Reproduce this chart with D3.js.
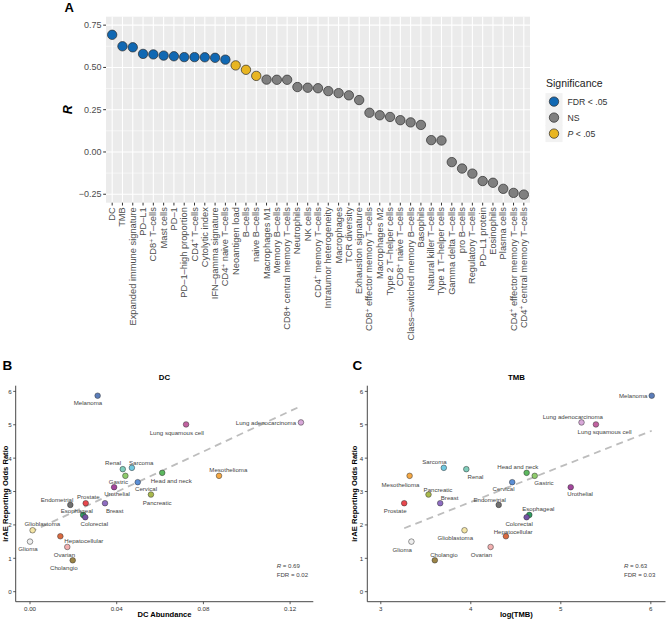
<!DOCTYPE html>
<html><head><meta charset="utf-8">
<script src="https://cdn.jsdelivr.net/npm/d3@7"></script>
<style>body{margin:0;background:#fff} text{font-family:"Liberation Sans",Arial,Helvetica,sans-serif}</style>
</head><body><svg id="c" width="666" height="619"></svg>
<script>
// ---------- DATA: panel A ----------
const features = ["DC","TMB","Expanded immune signature","PD–L1","CD8^+ T–cells","Mast cells","PD–1",
"PD–1–high proportion","CD4^+ T–cells","Cytolytic index","IFN–gamma signature","CD4^+ naive T–cells",
"Neoantigen load","B–cells","naive B–cells","Macrophages M1","Memory B–cells","CD8+ central memory T–cells",
"Neutrophils","NK cells","CD4^+ memory T–cells","Intratumor heterogeneity","Macrophages","TCR diversity",
"Exhaustion signature","CD8^+ effector memory T–cells","Macrophages M2","Type 2 T–helper cells",
"CD8^+ naive T–cells","Class–switched memory B–cells","Basophils","Natural killer T–cells",
"Type 1 T–helper cells","Gamma delta T–cells","pro B–cells","Regulatory T–cells","PD–L1 protein",
"Eosinophils","Plasma cells","CD4^+ effector memory T–cells","CD4^+ central memory T–cells"];
const rValues = [0.693,0.625,0.619,0.580,0.577,0.570,0.566,0.561,0.561,0.560,0.557,0.546,
0.512,0.486,0.450,0.428,0.427,0.427,0.384,0.380,0.377,0.360,0.348,0.335,0.307,0.232,0.217,0.207,
0.188,0.175,0.160,0.070,0.068,-0.060,-0.098,-0.128,-0.172,-0.182,-0.218,-0.242,-0.252];
const significance = ["FDR","FDR","FDR","FDR","FDR","FDR","FDR","FDR","FDR","FDR","FDR","FDR",
"P","P","P","NS","NS","NS","NS","NS","NS","NS","NS","NS","NS","NS","NS","NS","NS","NS","NS","NS","NS",
"NS","NS","NS","NS","NS","NS","NS","NS"];
const yTicksA = [-0.25,0,0.25,0.5,0.75];
const yMinorA = [-0.125,0.125,0.375,0.625];
const sigLevels = ["FDR","NS","P"];
const sigColors = ["#1068B3","#7F7F7F","#E8B521"];

// ---------- DATA: panels B & C ----------
const cancers = ["Melanoma","Lung squamous cell","Lung adenocarcinoma","Renal","Sarcoma","Gastric",
"Head and neck","Mesothelioma","Cervical","Urothelial","Pancreatic","Prostate","Breast","Endometrial",
"Esophageal","Colorectal","Glioblastoma","Glioma","Hepatocellular","Ovarian","Cholangio"];
const dcAbundance = [0.0312,0.0720,0.1250,0.0428,0.0470,0.0440,0.0610,0.0872,0.0497,0.0388,0.0558,
0.0257,0.0346,0.0186,0.0245,0.0255,0.0012,0.0000,0.0140,0.0172,0.0197];
const logTMB = [6.01,5.39,5.23,3.95,3.70,4.71,4.62,3.32,4.46,5.11,3.53,3.26,3.66,4.31,4.65,4.62,3.93,
3.34,4.39,4.22,3.60];
const irAEOR = [5.87,5.01,5.07,3.67,3.71,3.47,3.56,3.47,3.28,3.13,2.91,2.65,2.65,2.60,2.30,2.23,1.84,
1.50,1.66,1.34,0.94];
const cancerColors = ["#5B7DB9","#C162A0","#D8A8D9","#80CDBB","#70C8E0","#8FCB6C","#5CB85F","#F5A844",
"#5B8FD6","#A2469C","#A9B94C","#E8474D","#8E6DC1","#707070","#2F9B60","#7452A4","#F4E5A6","#EEEEEE",
"#D96A40","#F2AFAF","#9C8548"];
const xTicksB = [0.00,0.04,0.08,0.12];
const xTicksC = [3,4,5,6];
const yTicksBC = [0,1,2,3,4,5,6];
const fitB = {x:[0.000,0.125], y:[1.78,5.56]};
const fitC = {x:[3.26,6.01], y:[1.90,4.82]};
const statsB = ["0.69","0.02"];
const statsC = ["0.63","0.03"];

// ---------- layout: label nudges (px) ----------
const nudgeB = {"Melanoma":[-9.7,7],"Lung squamous cell":[-9.3,8],"Lung adenocarcinoma":[-35,0],
"Renal":[-9.7,-6.3],"Sarcoma":[9.3,-5.7],"Gastric":[-7,5.6],"Head and neck":[9,7.3],"Mesothelioma":[9.3,-6.4],
"Cervical":[8.3,6.7],"Urothelial":[3,6.7],"Pancreatic":[6.2,8],"Prostate":[2.6,-6.3],"Breast":[9.7,7.4],
"Endometrial":[-13.3,-5.7],"Esophageal":[-6.3,-4],"Colorectal":[9,6.7],"Glioblastoma":[9.8,-6.6],
"Glioma":[-2,7.3],"Hepatocellular":[23.5,4],"Ovarian":[-2.8,7.3],"Cholangio":[-8.9,7.4]};
const nudgeC = {"Melanoma":[-18.5,0],"Lung adenocarcinoma":[-8.7,-6],"Lung squamous cell":[8.7,7],
"Sarcoma":[-9.3,-6],"Renal":[9.2,7],"Head and neck":[-8.8,-6],"Gastric":[9.3,7],"Mesothelioma":[-9.1,8.3],
"Cervical":[-8.7,6.7],"Urothelial":[9.4,6.7],"Pancreatic":[9.5,-5.4],"Breast":[9.4,-5.6],"Prostate":[-9,7],
"Endometrial":[-9,-5.4],"Esophageal":[9,-6.3],"Colorectal":[-7.5,6],"Hepatocellular":[7.2,-5],
"Glioblastoma":[-9.2,7],"Glioma":[-9.2,7.6],"Ovarian":[-9.2,7.3],"Cholangio":[9.1,-6]};

const svg = d3.select("#c");
const FONT = '"Liberation Sans",Arial,sans-serif';

function addRich(sel, label) {
  const parts = label.split("^+");
  parts.forEach((p, i) => {
    if (i > 0) {
      sel.append("tspan").attr("font-size","0.7em").attr("dy","-0.4em").text("+");
      sel.append("tspan").attr("dy","0.28em").text(p);
    } else sel.append("tspan").text(p);
  });
}

// ---------- Panel A ----------
(function(){
  const L=106,R=530,T=16.7,B=202.7;
  const x = d3.scalePoint().domain(features).range([L,R]).padding(0.6);
  const y = d3.scaleLinear().domain([-0.30,0.80]).range([B,T]);
  const col = d3.scaleOrdinal().domain(sigLevels).range(sigColors);
  const g = svg.append("g");
  g.append("rect").attr("x",L).attr("y",T).attr("width",R-L).attr("height",B-T).attr("fill","#EBEBEB");
  g.selectAll(".ymn").data(yMinorA).enter().append("line")
    .attr("x1",L).attr("x2",R).attr("y1",d=>y(d)).attr("y2",d=>y(d)).attr("stroke","#fff").attr("stroke-width",0.55);
  g.selectAll(".ymj").data(yTicksA).enter().append("line")
    .attr("x1",L).attr("x2",R).attr("y1",d=>y(d)).attr("y2",d=>y(d)).attr("stroke","#fff").attr("stroke-width",1.1);
  g.selectAll(".xmj").data(features).enter().append("line")
    .attr("x1",d=>x(d)).attr("x2",d=>x(d)).attr("y1",T).attr("y2",B).attr("stroke","#fff").attr("stroke-width",1.1);
  // ticks
  g.selectAll(".yt").data(yTicksA).enter().append("line")
    .attr("x1",L-2.8).attr("x2",L).attr("y1",d=>y(d)).attr("y2",d=>y(d)).attr("stroke","#333").attr("stroke-width",1);
  g.selectAll(".ytl").data(yTicksA).enter().append("text")
    .attr("x",L-4.5).attr("y",d=>y(d)).attr("text-anchor","end").attr("dominant-baseline","central")
    .attr("font-size",9).attr("fill","#4D4D4D").text(d=>d3.format(".2f")(d).replace("-","−"));
  g.selectAll(".xt").data(features).enter().append("line")
    .attr("x1",d=>x(d)).attr("x2",d=>x(d)).attr("y1",B).attr("y2",B+2.8).attr("stroke","#333").attr("stroke-width",1);
  g.selectAll(".xtl").data(features).enter().append("text")
    .attr("transform",d=>`translate(${x(d)},${B+4.5}) rotate(-90)`)
    .attr("text-anchor","end").attr("dominant-baseline","central")
    .attr("font-size",9.3).attr("fill","#4D4D4D")
    .each(function(d){ addRich(d3.select(this), d); });
  // points
  g.selectAll(".pt").data(features).enter().append("circle")
    .attr("cx",d=>x(d)).attr("cy",(d,i)=>y(rValues[i])).attr("r",4.7)
    .attr("fill",(d,i)=>col(significance[i])).attr("stroke","#2b2b2b").attr("stroke-width",0.7);
  // axis title
  g.append("text").attr("transform",`translate(72,${(T+B)/2}) rotate(-90)`).attr("text-anchor","middle")
    .attr("font-size",12.5).attr("font-weight","bold").attr("font-style","italic").attr("fill","#000").text("R");
  g.append("text").attr("x",64.5).attr("y",12).attr("font-size",13).attr("font-weight","bold").text("A");
  // legend
  const lg = g.append("g");
  lg.append("text").attr("x",546).attr("y",86.5).attr("font-size",10.5).attr("fill","#222").text("Significance");
  const labels = [["FDR < .05"],["NS"],["P"," < .05"]];
  sigLevels.forEach((s,i)=>{
    const cy = 101.6 + i*16;
    lg.append("rect").attr("x",554-8.5).attr("y",cy-8.5).attr("width",17).attr("height",17).attr("fill","#F2F2F2");
    lg.append("circle").attr("cx",554).attr("cy",cy).attr("r",4.7).attr("fill",col(s)).attr("stroke","#2b2b2b").attr("stroke-width",0.7);
    const t = lg.append("text").attr("x",567.5).attr("y",cy).attr("dominant-baseline","central").attr("font-size",8.7).attr("fill","#333");
    if (labels[i].length===2){ t.append("tspan").attr("font-style","italic").text(labels[i][0]); t.append("tspan").text(labels[i][1]); }
    else t.text(labels[i][0]);
  });
})();

// ---------- Panels B & C ----------
function scatter(o){
  const g = svg.append("g");
  const x = d3.scaleLinear().domain(o.xDomain).range([o.L,o.R]);
  const y = d3.scaleLinear().domain([-0.3,6.17]).range([601.7,385.7]);
  // axes lines
  g.append("line").attr("x1",o.L).attr("x2",o.L).attr("y1",385.7).attr("y2",601.7).attr("stroke","#333").attr("stroke-width",0.9);
  g.append("line").attr("x1",o.L).attr("x2",o.R).attr("y1",601.7).attr("y2",601.7).attr("stroke","#333").attr("stroke-width",0.9);
  g.selectAll(".yt").data(yTicksBC).enter().append("line").attr("x1",o.L-2.5).attr("x2",o.L)
    .attr("y1",d=>y(d)).attr("y2",d=>y(d)).attr("stroke","#333").attr("stroke-width",0.8);
  g.selectAll(".ytl").data(yTicksBC).enter().append("text").attr("x",o.L-4).attr("y",d=>y(d))
    .attr("text-anchor","end").attr("dominant-baseline","central").attr("font-size",6.2).attr("fill","#333").text(d=>d);
  g.selectAll(".xt").data(o.xTicks).enter().append("line").attr("x1",d=>x(d)).attr("x2",d=>x(d))
    .attr("y1",601.7).attr("y2",604.2).attr("stroke","#333").attr("stroke-width",0.8);
  g.selectAll(".xtl").data(o.xTicks).enter().append("text").attr("x",d=>x(d)).attr("y",608.5)
    .attr("text-anchor","middle").attr("dominant-baseline","central").attr("font-size",6.2).attr("fill","#333").text(o.xFmt);
  // titles
  g.append("text").attr("x",(o.L+o.R)/2+o.titleDx).attr("y",379.5).attr("text-anchor","middle").attr("font-size",7.8).attr("font-weight","bold").text(o.title);
  g.append("text").attr("x",(o.L+o.R)/2+o.titleDx).attr("y",616.5).attr("text-anchor","middle").attr("font-size",7.6).attr("font-weight","bold").text(o.xLabel);
  g.append("text").attr("transform",`translate(${o.yLabX},493.7) rotate(-90)`).attr("text-anchor","middle")
    .attr("dominant-baseline","central").attr("font-size",7.6).attr("font-weight","bold").text("irAE Reporting Odds Ratio");
  g.append("text").attr("x",o.letterX).attr("y",369.5).attr("font-size",13.5).attr("font-weight","bold").text(o.letter);
  // fit line
  g.append("line").attr("x1",x(o.fit.x[0])).attr("y1",y(o.fit.y[0])).attr("x2",x(o.fit.x[1])).attr("y2",y(o.fit.y[1]))
    .attr("stroke","#BDBDBD").attr("stroke-width",1.8).attr("stroke-dasharray","7,5");
  // points
  g.selectAll(".pt").data(cancers).enter().append("circle")
    .attr("cx",(d,i)=>x(o.xs[i])).attr("cy",(d,i)=>y(irAEOR[i])).attr("r",2.8)
    .attr("fill",(d,i)=>cancerColors[i]).attr("stroke","#333").attr("stroke-width",0.5);
  g.selectAll(".lb").data(cancers).enter().append("text")
    .attr("x",(d,i)=>x(o.xs[i])+o.nudge[d][0]).attr("y",(d,i)=>y(irAEOR[i])+o.nudge[d][1])
    .attr("text-anchor","middle").attr("dominant-baseline","central").attr("font-size",6.1).attr("fill","#444").text(d=>d);
  // stats
  const s1 = g.append("text").attr("x",o.statX).attr("y",565).attr("dominant-baseline","central").attr("font-size",6.1).attr("fill","#444");
  s1.append("tspan").attr("font-style","italic").text("R"); s1.append("tspan").text(" = "+o.stats[0]);
  g.append("text").attr("x",o.statX).attr("y",574.3).attr("dominant-baseline","central").attr("font-size",6.1).attr("fill","#444").text("FDR = "+o.stats[1]);
}
scatter({L:15.7,R:313.3,xDomain:[-0.0066,0.1307],xTicks:xTicksB,xFmt:d3.format(".2f"),xs:dcAbundance,
  title:"DC",xLabel:"DC Abundance",titleDx:0,yLabX:5,letter:"B",letterX:2.5,fit:fitB,nudge:nudgeB,stats:statsB,statX:276.7});
scatter({L:367.3,R:665.5,xDomain:[2.85,6.163],xTicks:xTicksC,xFmt:d=>d,xs:logTMB,
  title:"TMB",xLabel:"log(TMB)",titleDx:0,yLabX:354.7,letter:"C",letterX:352.5,fit:fitC,nudge:nudgeC,stats:statsC,statX:624});
</script></body></html>
